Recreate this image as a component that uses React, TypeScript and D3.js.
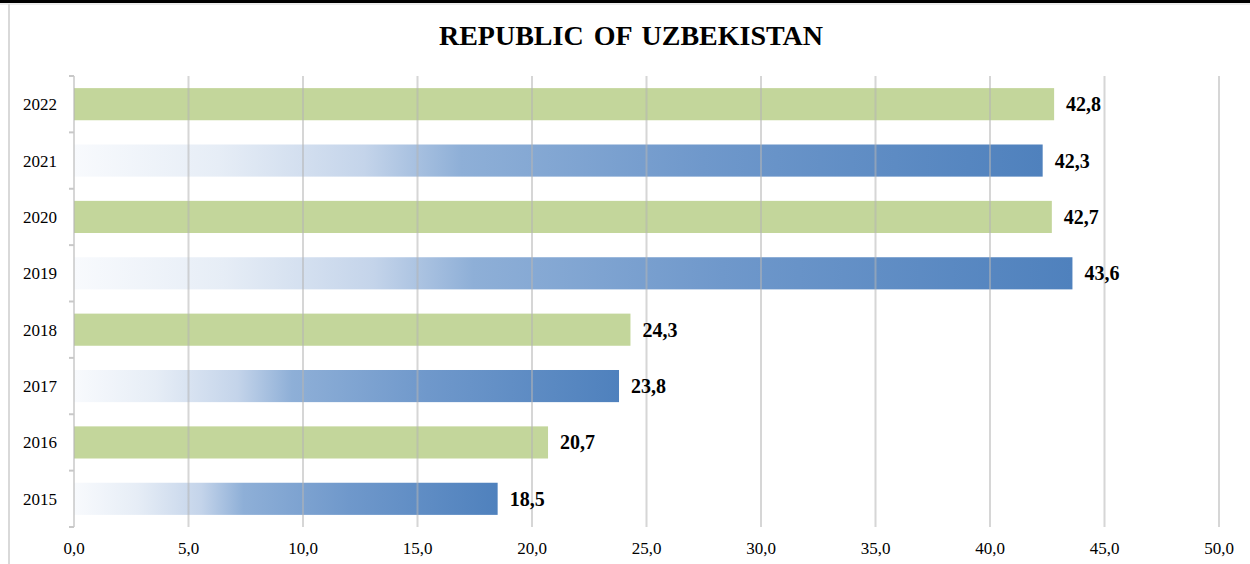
import React from "react";
import * as d3 from "d3";

const years = ["2015", "2016", "2017", "2018", "2019", "2020", "2021", "2022"];
const values = [18.5, 20.7, 23.8, 24.3, 43.6, 42.7, 42.3, 42.8];
const barKinds = ["blue", "green", "blue", "green", "blue", "green", "blue", "green"];
const xTicks = [0, 5, 10, 15, 20, 25, 30, 35, 40, 45, 50];
const title = "REPUBLIC OF UZBEKISTAN";

const W = 1250;
const H = 564;

export default function App() {
  const x = d3.scaleLinear().domain([0, 50]).range([74, 1219]);
  const y = d3
    .scaleBand<string>()
    .domain([...years].reverse())
    .range([76, 527])
    .paddingInner(0.43)
    .paddingOuter(0.215);
  const fmt = (v: number) => d3.format(".1f")(v).replace(".", ",");
  const boundaries = d3.range(years.length + 1).map((i) => 76 + i * ((527 - 76) / years.length));
  const serif = "'Liberation Serif', 'Times New Roman', serif";

  return (
    <div style={{ position: "absolute", left: 0, top: 0, width: W, height: H }}>
      <svg width={W} height={H} style={{ display: "block", background: "#fff" }}>
        <defs>
          <linearGradient id="blueGrad" x1="0" y1="0" x2="1" y2="0">
            <stop offset="0" stopColor="#f8fafd" />
            <stop offset="0.15" stopColor="#e6edf6" />
            <stop offset="0.3" stopColor="#c4d4ea" />
            <stop offset="0.4" stopColor="#8eafd7" />
            <stop offset="0.65" stopColor="#6f98cb" />
            <stop offset="1" stopColor="#4f81bd" />
          </linearGradient>
        </defs>
        {/* frame */}
        <rect x={0} y={0} width={W} height={3} fill="#000" />
        <line x1={0} x2={W} y1={4} y2={4} stroke="#d9d9d9" strokeWidth={1} />
        <line x1={9} x2={9} y1={4} y2={H} stroke="#d9d9d9" strokeWidth={2} />

        <text x={631} y={45} textAnchor="middle" fontFamily={serif} fontWeight="bold" fontSize={28} fill="#000" style={{ wordSpacing: "3px" }}>
          {title}
        </text>

        {/* bars */}
        {years.map((yr, i) => (
          <rect
            key={yr}
            x={x(0)}
            y={y(yr)!}
            width={x(values[i]) - x(0)}
            height={y.bandwidth()}
            fill={barKinds[i] === "blue" ? "url(#blueGrad)" : "#c3d69b"}
          />
        ))}

        {/* gridlines */}
        {xTicks.map((t) => (
          <line key={t} x1={x(t)} x2={x(t)} y1={76} y2={527} stroke="#b4b4b4" strokeOpacity={0.55} strokeWidth={2} />
        ))}
        {/* y axis ticks */}
        {boundaries.map((b, i) => (
          <line key={i} x1={69} x2={74} y1={b} y2={b} stroke="#c8c8c8" strokeWidth={2} />
        ))}

        {/* y labels */}
        {years.map((yr) => (
          <text
            key={yr}
            x={57}
            y={y(yr)! + y.bandwidth() / 2}
            dy="0.35em"
            textAnchor="end"
            fontFamily={serif}
            fontSize={17}
            fill="#000"
          >
            {yr}
          </text>
        ))}

        {/* x labels */}
        {xTicks.map((t) => (
          <text key={t} x={x(t)} y={554} textAnchor="middle" fontFamily={serif} fontSize={17} fill="#000">
            {fmt(t)}
          </text>
        ))}

        {/* value labels */}
        {years.map((yr, i) => (
          <text
            key={yr}
            x={x(values[i]) + 12}
            y={y(yr)! + y.bandwidth() / 2}
            dy="0.35em"
            fontFamily={serif}
            fontWeight="bold"
            fontSize={20}
            fill="#000"
          >
            {fmt(values[i])}
          </text>
        ))}
      </svg>
    </div>
  );
}
